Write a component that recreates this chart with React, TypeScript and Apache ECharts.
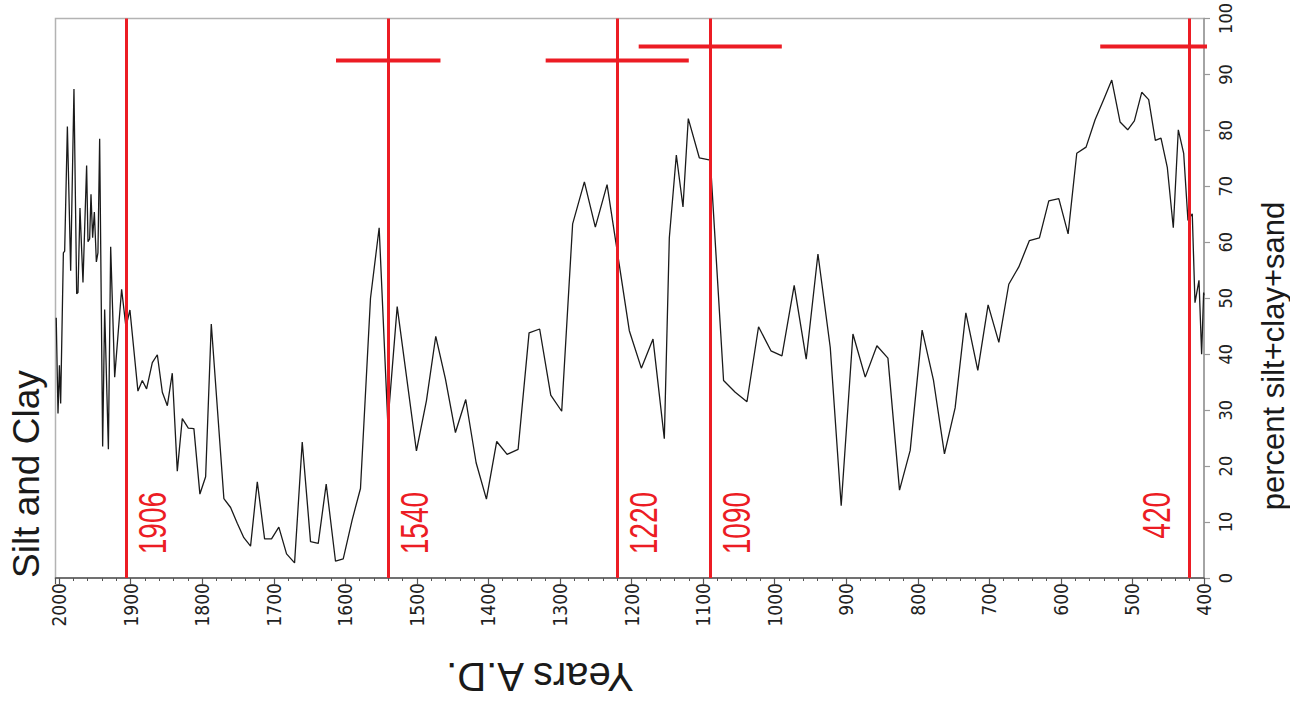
import React, { useEffect, useRef } from "react";
import * as echarts from "echarts";

// Years A.D. (x) and percent silt+clay (y)
const years = [
  2004, 2001.5, 1999.5, 1997.8, 1994.0, 1992.2, 1988.4, 1983.8, 1979.2, 1975.4,
  1973.6, 1970.8, 1966.6, 1961.5, 1959.6, 1957.3, 1955.4, 1953.1, 1950.7, 1947.9,
  1945.7, 1943.3, 1939.1, 1936.3, 1931.1, 1927.9, 1922.3, 1912.6, 1906.6, 1901.0,
  1889.8, 1883.7, 1877.7, 1869.7, 1862.7, 1855.7, 1848.7, 1841.8, 1834.8, 1827.8,
  1819.4, 1811.6, 1803.2, 1795.2, 1787.3, 1769.7, 1760.3, 1751.0, 1741.8, 1732.4,
  1723.0, 1712.8, 1703.1, 1692.9, 1682.1, 1670.9, 1660.2, 1648.6, 1637.8, 1626.7,
  1613.7, 1602.9, 1590.4, 1578.8, 1564.8, 1552.7, 1540.6, 1527.5, 1500.6, 1486.6,
  1473.6, 1460.1, 1446.1, 1431.7, 1417.2, 1402.8, 1388.4, 1373.9, 1358.5, 1343.2,
  1328.4, 1312.9, 1297.6, 1282.3, 1265.9, 1250.6, 1234.2, 1203.1, 1186.3, 1170.0,
  1154.2, 1147.2, 1137.4, 1128.1, 1120.7, 1105.3, 1089.9, 1071.4, 1055.1, 1038.7,
  1022.5, 1005.2, 989.8, 972.7, 955.9, 939.5, 922.3, 907.0, 890.6, 873.4,
  857.1, 841.7, 825.5, 810.6, 793.9, 778.0, 762.7, 747.8, 732.8, 716.1,
  701.7, 686.7, 672.8, 658.8, 644.0, 630.0, 616.9, 602.9, 589.9, 577.8,
  564.8, 552.2, 540.6, 528.9, 517.3, 506.6, 497.3, 487.0, 477.3, 468.0,
  460.1, 451.3, 442.9, 435.9, 428.4, 422.4, 416.4, 412.6, 407.0, 403.3,
  400.5, 400,
];
const siltClay = [
  46.5, 29.4, 38.0, 31.2, 58.1, 58.4, 80.7, 54.9, 87.4, 50.8,
  51.0, 66.1, 52.8, 73.7, 60.1, 60.6, 68.6, 60.8, 65.4, 56.5,
  58.1, 78.5, 23.5, 48.0, 23.0, 59.2, 35.9, 51.6, 44.9, 47.9,
  33.4, 35.3, 33.8, 38.5, 39.9, 33.2, 30.8, 36.6, 19.1, 28.5,
  26.8, 26.7, 15.0, 18.1, 45.4, 14.2, 12.6, 9.8, 7.2, 5.7,
  17.2, 7.0, 7.0, 9.1, 4.3, 2.7, 24.3, 6.5, 6.2, 16.8,
  3.0, 3.4, 10.4, 16.0, 50.0, 62.6, 27.6, 48.5, 22.7, 31.7,
  43.2, 35.6, 26.0, 31.9, 20.6, 14.1, 24.4, 22.1, 23.0, 43.8,
  44.5, 32.7, 29.8, 63.3, 70.8, 62.7, 70.3, 44.2, 37.5, 42.7,
  24.9, 60.8, 75.6, 66.3, 82.1, 75.1, 74.7, 35.3, 33.2, 31.5,
  44.9, 40.6, 39.7, 52.3, 39.1, 57.9, 41.2, 12.9, 43.6, 35.9,
  41.5, 39.3, 15.7, 22.8, 44.3, 35.3, 22.2, 30.4, 47.4, 37.1,
  48.8, 42.1, 52.5, 55.6, 60.3, 60.8, 67.4, 67.8, 61.5, 75.9,
  77.0, 81.9, 85.4, 89.0, 81.5, 80.1, 81.7, 86.8, 85.5, 78.2,
  78.6, 73.4, 62.6, 80.1, 75.9, 63.9, 65.1, 49.2, 53.2, 40.0,
  51.0, 50.5,
];

// Event dates (red vertical lines) and the side their label sits on
const eventYears = [1906, 1540, 1220, 1090, 420];
const eventLabelsLeft = [false, false, false, false, true];
const eventLabelLevel = 15.4; // percent value where the label text ends

// Age ranges (red horizontal bars)
const rangeStart = [1613, 1320, 1190, 545];
const rangeEnd = [1467, 1120, 990, 295];
const rangeLevel = [92.5, 92.5, 95, 95];

const xTickMin = 400;
const xTickMax = 2005;
const xTickStep = 100;
const yTickMin = 0;
const yTickMax = 100;
const yTickStep = 10;

const RED = "#ec1c24";
const NARROW = "'Liberation Sans Narrow', 'DejaVu Sans Condensed', 'Roboto Condensed', sans-serif";
const SANS = "'Liberation Sans', Arial, Helvetica, sans-serif";

export default function App() {
  const ref = useRef<HTMLDivElement>(null);
  useEffect(() => {
    if (!ref.current) return;
    const chart = echarts.init(ref.current, undefined, { renderer: "svg" });

    const lineData = years.map((y, i) => [y, siltClay[i]]);

    const rangeSeries = rangeStart.map((s, i) => ({
      type: "line",
      data: [
        [s, rangeLevel[i]],
        [rangeEnd[i], rangeLevel[i]],
      ],
      symbol: "none",
      silent: true,
      z: 5,
      lineStyle: { color: RED, width: 4 },
      clip: true,
    }));

    const markLineData = eventYears.map((yr) => [
      { coord: [yr, yTickMin] },
      { coord: [yr, yTickMax] },
    ]);

    const titles = [
      {
        type: "text",
        x: 26,
        y: 578,
        rotation: Math.PI / 2,
        style: {
          text: "Silt and Clay",
          fontSize: 37,
          fontFamily: SANS,
          fill: "#1a1a1a",
          align: "left",
          verticalAlign: "middle",
        },
      },
      {
        type: "text",
        x: 1273,
        y: 356,
        rotation: Math.PI / 2,
        style: {
          text: "percent silt+clay+sand",
          fontSize: 31,
          fontFamily: SANS,
          fill: "#1a1a1a",
          align: "center",
          verticalAlign: "middle",
        },
      },
      {
        type: "text",
        x: 540,
        y: 677,
        rotation: Math.PI,
        style: {
          text: "Years A.D.",
          fontSize: 40,
          fontFamily: SANS,
          fill: "#1a1a1a",
          align: "center",
          verticalAlign: "middle",
        },
      },
    ];

    chart.setOption({
      animation: false,
      grid: {
        left: 55.5,
        right: 86,
        top: 16,
        bottom: 126,
        show: true,
        borderColor: "#b3b3b3",
        borderWidth: 1.5,
        backgroundColor: "transparent",
      },
      xAxis: {
        type: "value",
        inverse: true,
        min: xTickMin,
        max: xTickMax,
        interval: xTickStep,
        axisLine: { show: true, onZero: false, lineStyle: { color: "#555", width: 1.5 } },
        axisTick: { show: true, length: 6, lineStyle: { color: "#555", width: 1.2 } },
        minorTick: { show: true, splitNumber: 5, length: 3, lineStyle: { color: "#555", width: 1 } },
        axisLabel: {
          rotate: 90,
          margin: 5,
          fontSize: 19,
          color: "#222",
          fontFamily: NARROW,
          showMaxLabel: false,
          formatter: (v: number) => (v % 100 === 0 ? String(v) : ""),
        },
        splitLine: { show: false },
      },
      yAxis: {
        type: "value",
        position: "right",
        min: yTickMin,
        max: yTickMax,
        interval: yTickStep,
        axisLine: { show: true, lineStyle: { color: "#999", width: 1.5 } },
        axisTick: { show: true, length: 6, lineStyle: { color: "#999", width: 1.2 } },
        axisLabel: {
          rotate: 90,
          margin: 12,
          fontSize: 18,
          color: "#222",
          fontFamily: NARROW,
        },
        splitLine: { show: false },
      },
      series: [
        {
          type: "line",
          data: lineData,
          symbol: "none",
          silent: true,
          z: 3,
          lineStyle: { color: "#1a1a1a", width: 1.3 },
        },
        ...rangeSeries,
        {
          type: "line",
          data: [],
          symbol: "none",
          silent: true,
          z: 6,
          markLine: {
            silent: true,
            symbol: ["none", "none"],
            label: { show: false },
            lineStyle: { color: RED, width: 3, type: "solid" },
            data: markLineData,
          },
        },
      ],
      graphic: titles,
    });

    // Event labels: placed at the event year through the chart's own scales
    const labels = eventYears.map((yr, i) => {
      const p = chart.convertToPixel({ gridIndex: 0 }, [yr, eventLabelLevel]) as number[];
      const left = eventLabelsLeft[i];
      return {
        type: "text",
        x: p[0] + (left ? -14 : 6),
        y: p[1],
        rotation: Math.PI / 2,
        scaleX: 0.72,
        scaleY: 1,
        z: 10,
        style: {
          text: String(yr),
          fontSize: 39,
          fontFamily: SANS,
          fill: RED,
          align: "right",
          verticalAlign: left ? "bottom" : "top",
        },
      };
    });

    chart.setOption({ graphic: [...titles, ...labels] });

    return () => chart.dispose();
  }, []);

  return (
    <div
      ref={ref}
      style={{ position: "absolute", left: 0, top: 0, width: 1290, height: 704, background: "#fff" }}
    />
  );
}
